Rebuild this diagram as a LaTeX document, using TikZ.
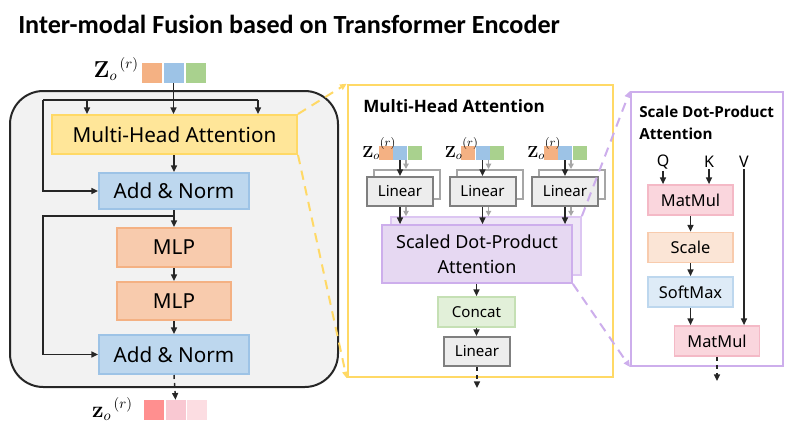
\documentclass[tikz,border=0pt]{standalone}
\usepackage[no-math]{fontspec}
\setmainfont{Noto Sans}
\newfontfamily\titlefont{Carlito}
\newfontfamily\headfont{Open Sans}
\usetikzlibrary{arrows.meta}

\definecolor{encFill}{HTML}{F2F2F2}
\definecolor{arrowCol}{HTML}{262626}
\definecolor{mhaFill}{HTML}{FFE699}
\definecolor{mhaLine}{HTML}{FFD966}
\definecolor{anFill}{HTML}{BDD7EE}
\definecolor{anLine}{HTML}{9DC3E6}
\definecolor{mlpFill}{HTML}{F8CBAD}
\definecolor{mlpLine}{HTML}{F4B183}
\definecolor{linFill}{HTML}{EDEDED}
\definecolor{linLine}{HTML}{7F7F7F}
\definecolor{linBack}{HTML}{A6A6A6}
\definecolor{sdpFill}{HTML}{E6D8F2}
\definecolor{sdpLine}{HTML}{CDAEEC}
\definecolor{sdpBack}{HTML}{EFE6F7}
\definecolor{catFill}{HTML}{E2F0D9}
\definecolor{catLine}{HTML}{C5E0B4}
\definecolor{mmFill}{HTML}{FAD6DD}
\definecolor{mmLine}{HTML}{F4B9C6}
\definecolor{scFill}{HTML}{FBE5D6}
\definecolor{smFill}{HTML}{DEEBF7}
\definecolor{sqOrange}{HTML}{F4B183}
\definecolor{sqBlue}{HTML}{9DC3E6}
\definecolor{sqGreen}{HTML}{A9D18E}
\definecolor{sqRed}{HTML}{FF8F8F}
\definecolor{sqPink}{HTML}{F9C8D2}
\definecolor{sqRose}{HTML}{FCDDE2}

\begin{document}
\begin{tikzpicture}[x=0.75pt,y=0.75pt,yscale=-1,xscale=1,
  arr/.style={draw=arrowCol,line width=1.1pt,-{Triangle[length=5pt,width=4.5pt]}},
  arrg/.style={draw=linBack,line width=1.1pt,-{Triangle[length=4pt,width=4pt]}},
  ln/.style={draw=arrowCol,line width=1.1pt},
  lbox/.style={line width=1.5pt,inner sep=0pt,align=center,font=\fontsize{15.5}{18}\selectfont},
  linbox/.style={draw=linLine,fill=linFill,line width=1.5pt,inner sep=0pt,minimum width=49.5pt,minimum height=21.75pt,font=\fontsize{11.3}{13}\selectfont},
  linback/.style={draw=linBack,fill=white,line width=1.5pt,inner sep=0pt,minimum width=49.5pt,minimum height=21.75pt},
  rbox/.style={line width=1.3pt,inner sep=0pt,minimum width=63.75pt,minimum height=22.5pt,font=\fontsize{12.3}{14}\selectfont},
  sq/.style={inner sep=0pt,minimum size=15pt},
  sqs/.style={inner sep=0pt,minimum size=10.5pt},
  ydash/.style={draw=mhaLine,line width=1.5pt,dash pattern=on 7pt off 5pt,-{Triangle[length=5pt,width=4.5pt]}},
  pdash/.style={draw=sdpLine,line width=1.5pt,dash pattern=on 7pt off 5pt,-{Triangle[length=5pt,width=4.5pt]}}]

\useasboundingbox (0,0) rectangle (792,429);

% Title
\node[anchor=base west,inner sep=0pt,font=\titlefont\bfseries\fontsize{19.6}{23}\selectfont] (title) at (18,33) {Inter-modal Fusion based on Transformer Encoder};

%Encoder block
\node[draw=arrowCol,fill=encFill,line width=1.5pt,rounded corners=25pt,minimum width=246pt,minimum height=222pt] (enc) at (174,239) {};

% Input tokens
\node[anchor=base east,inner sep=0pt,font=\fontsize{16}{18}\selectfont] (zin) at (139,77) {$\mathbf{Z}_o{}^{\,(r)}$};
\node[sq,fill=sqOrange] (tsq1) at (151.5,73) {};
\node[sq,fill=sqBlue] (tsq2) at (173.5,73) {};
\node[sq,fill=sqGreen] (tsq3) at (195.5,73) {};

% Encoder layers
\node[lbox,draw=mhaLine,fill=mhaFill,minimum width=183.75pt,minimum height=29.25pt] (mha) at (174.5,134.5) {Multi-Head Attention};
\node[lbox,draw=anLine,fill=anFill,minimum width=112.5pt,minimum height=27pt] (an1) at (174,191) {Add \& Norm};
\node[lbox,draw=mlpLine,fill=mlpFill,minimum width=85.5pt,minimum height=29.25pt] (mlp1) at (174,247.5) {MLP};
\node[lbox,draw=mlpLine,fill=mlpFill,minimum width=85.5pt,minimum height=28.5pt] (mlp2) at (174,301) {MLP};
\node[lbox,draw=anLine,fill=anFill,minimum width=112.5pt,minimum height=29.25pt] (an2) at (174,354.5) {Add \& Norm};

% Output tokens
\node[anchor=base east,inner sep=0pt,font=\fontsize{16}{18}\selectfont] (zout) at (133,417) {$\mathbf{z}_o{}^{\,(r)}$};
\node[sq,fill=sqRed] (osq1) at (153.5,410) {};
\node[sq,fill=sqPink] (osq2) at (175.5,410) {};
\node[sq,fill=sqRose] (osq3) at (197,410) {};

% Encoder connectors
\coordinate (brL) at (43,100);
\coordinate (brM) at (87,100);
\coordinate (brR) at (258,100);
\coordinate (br2) at (174,216);
\draw[arr] (tsq2.south) -- (tsq2.south |- mha.north);
\draw[ln] (brL) -- (brR);
\draw[arr] (brM) -- (brM |- mha.north);
\draw[arr] (brR) -- (brR |- mha.north);
\draw[arr] (brL) |- (an1.west);
\draw[arr] (mha.south -| an1.north) -- (an1.north);
\draw[arr] (an1.south) -- (mlp1.north);
\draw[arr] (br2) -- (brL |- br2) |- (an2.west);
\draw[arr] (mlp1.south) -- (mlp2.north);
\draw[arr] (mlp2.south) -- (an2.north);
\draw[arr,dashed] (an2.south) -- (osq2.north);

%Multi-Head Attention panel
\node[draw=mhaLine,fill=white,line width=1.9pt,minimum width=198.75pt,minimum height=219pt] (mhapanel) at (480.5,231) {};
\node[anchor=west,inner sep=0pt,font=\headfont\bfseries\fontsize{12.8}{15}\selectfont] (mhatitle) at (363,106) {Multi-Head Attention};

\node[draw=sdpLine!70,fill=sdpBack,line width=1.3pt,minimum width=142.5pt,minimum height=43.5pt] (sdpab) at (486,246) {};
\node[draw=sdpLine,fill=sdpFill,line width=1.3pt,inner sep=0pt,minimum width=142.5pt,minimum height=43.5pt,align=center,font=\fontsize{13.5}{18.5}\selectfont] (sdpa) at (477,254) {Scaled Dot-Product\\Attention};

\foreach \i/\cx in {1/400,2/482.5,3/565}{
  \node[linback] (linb\i) at (\cx+7,184.5) {};
  \node[linbox] (lin\i) at (\cx,191.5) {Linear};
  \node[sqs,fill=sqOrange] (qa\i) at (\cx-14.5,153) {};
  \node[sqs,fill=sqBlue] (qb\i) at (\cx,153) {};
  \node[sqs,fill=sqGreen] (qc\i) at (\cx+14.5,153) {};
  \node[anchor=base west,inner sep=0pt,font=\fontsize{12.5}{14}\selectfont] (zl\i) at (\cx-38,157) {$\mathbf{Z}_o{}^{\raisebox{3.5pt}{$\scriptstyle(r)$}}$};
  \draw[arrg] ([xshift=4.5pt]qb\i.south) -- ([xshift=4.5pt]qb\i.south |- linb\i.north);
  \draw[arr] (qb\i.south) -- (lin\i.north);
  \draw[arrg] ([xshift=4.5pt]lin\i.south) -- ([xshift=4.5pt]lin\i.south |- sdpab.north);
  \draw[arr] (lin\i.south) -- (lin\i.south |- sdpa.north);
}

\node[draw=catLine,fill=catFill,line width=1.3pt,inner sep=0pt,minimum width=57.75pt,minimum height=22.5pt,font=\fontsize{11.3}{13}\selectfont] (concat) at (476.5,312) {Concat};
\node[linbox] (linout) at (477,351.5) {Linear};
\coordinate (mhaOut) at (477,388);
\draw[arr] (sdpa.south -| concat.north) -- (concat.north);
\draw[arr] (concat.south) -- (concat.south |- linout.north);
\draw[arr,dashed] (linout.south) -- (mhaOut);

%Scale Dot-Product Attention panel
\node[draw=sdpLine,fill=white,line width=1.5pt,minimum width=114pt,minimum height=205.5pt] (sdpanel) at (707,229) {};
\node[anchor=north west,inner sep=0pt,align=left,font=\headfont\bfseries\fontsize{11.4}{16.5}\selectfont] (sdptitle) at (639,106) {Scale Dot-Product\\Attention};

\node[inner sep=1pt,font=\fontsize{12}{14}\selectfont] (q) at (663,162) {Q};
\node[inner sep=1pt,font=\fontsize{12}{14}\selectfont] (k) at (709,162) {K};
\node[inner sep=1pt,font=\fontsize{12}{14}\selectfont] (v) at (744,162) {V};
\node[rbox,draw=mmLine,fill=mmFill] (mm1) at (690.5,200) {MatMul};
\node[rbox,draw=mlpFill,fill=scFill] (scale) at (690.5,247.5) {Scale};
\node[rbox,draw=anFill,fill=smFill] (soft) at (690.5,292) {SoftMax};
\node[rbox,draw=mmLine,fill=mmFill] (mm2) at (717,341) {MatMul};
\coordinate (sdpOut) at (717,381);

\draw[arr] (q.south) -- (q.south |- mm1.north);
\draw[arr] (k.south) -- (k.south |- mm1.north);
\draw[arr] (v.south) -- (v.south |- mm2.north);
\draw[arr] (mm1.south) -- (scale.north);
\draw[arr] (scale.south) -- (soft.north);
\draw[arr] (soft.south) -- (soft.south |- mm2.north);
\draw[arr,dashed] (mm2.south) -- (sdpOut);

% Zoom connectors
\draw[ydash] (mha.north east) -- (mhapanel.north west);
\draw[ydash] (mha.south east) -- (mhapanel.south west);
\draw[pdash] (sdpab.north east) -- (sdpanel.north west);
\draw[pdash] (sdpa.south east) -- (sdpanel.south west);

\end{tikzpicture}
\end{document}
